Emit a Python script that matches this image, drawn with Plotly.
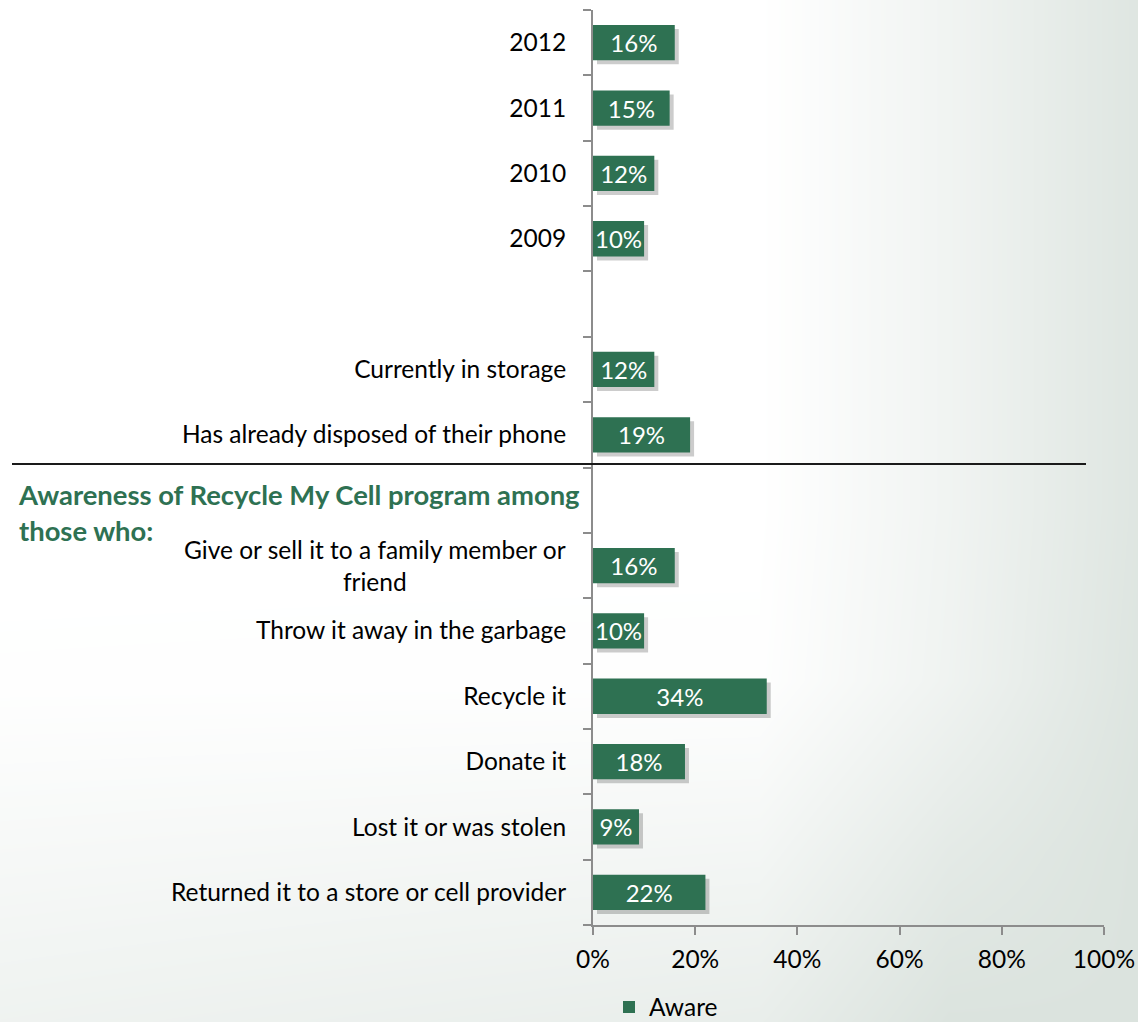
import numpy as np
import plotly.graph_objects as go

# Categories listed bottom-to-top; empty slots keep the gaps between groups
categories = [
    "Returned it to a store or cell provider",
    "Lost it or was stolen",
    "Donate it",
    "Recycle it",
    "Throw it away in the garbage",
    "Give or sell it to a family member or friend",
    "",
    "Has already disposed of their phone",
    "Currently in storage",
    " ",
    "2009",
    "2010",
    "2011",
    "2012",
]
aware = [22, 9, 18, 34, 10, 16, None, 19, 12, None, 10, 12, 15, 16]
x_ticks = [0, 20, 40, 60, 80, 100]
x_ticktext = [f"{v}%" for v in x_ticks]
section_title = "Awareness of Recycle My Cell program among<br>those who:"
wrapped_label = "Give or sell it to a family member or<br>friend"

W, H = 1138, 1022
GREEN = "#2e7152"
AXIS = "#8c8c8c"
FONT = "Lato"
LABEL_SIZE = 24.5
BAR_W = 0.54

# plot area in pixels
px_l, px_r, px_t, px_b = 593, 1104, 10, 925
xdom = [px_l / W, px_r / W]
ydom = [1 - px_b / H, 1 - px_t / H]

keys = [f"c{i}" for i in range(len(categories))]
ticktext = ["" if c == "Give or sell it to a family member or friend" else c.strip()
            for c in categories]

fig = go.Figure()

# soft page background (subplot xy, drawn first)
gx = np.linspace(0, 1, 7)
gy = np.linspace(0, 1, 7)
GX, GY = np.meshgrid(gx, gy)
shade = np.clip(np.maximum((GX - 0.7) / 0.3, 0) * 0.9
                + np.maximum((0.35 - GY) / 0.35, 0) * (1 - GX) * 0.45
                + np.maximum((0.35 - GY) / 0.35, 0) * GX * 0.7, 0, 1)
fig.add_trace(go.Heatmap(x=gx, y=gy, z=shade, zsmooth="best", showscale=False,
                         zmin=0, zmax=1, hoverinfo="skip",
                         colorscale=[[0, "#ffffff"], [1, "#dbe3de"]],
                         xaxis="x", yaxis="y"))

# drop shadows behind bars
fig.add_trace(go.Bar(y=keys, x=aware, orientation="h", width=BAR_W,
                     marker=dict(color="rgba(0,0,0,0.20)", line=dict(width=0)),
                     showlegend=False, hoverinfo="skip",
                     xaxis="x2", yaxis="y2"))

# main bars
fig.add_trace(go.Bar(y=keys, x=aware, orientation="h", width=BAR_W, name="Aware",
                     marker=dict(color=GREEN, line=dict(width=0)),
                     texttemplate="%{x:.0f}%", textposition="inside",
                     insidetextanchor="middle", constraintext="none",
                     textfont=dict(color="white", size=24, family=FONT),
                     xaxis="x3", yaxis="y3"))

hidden = dict(visible=False, showgrid=False, zeroline=False, fixedrange=True)
fig.update_layout(
    width=W, height=H,
    margin=dict(l=0, r=0, t=0, b=0, autoexpand=False),
    paper_bgcolor="white", plot_bgcolor="rgba(0,0,0,0)",
    font=dict(family=FONT, size=LABEL_SIZE, color="black"),
    barmode="overlay",
    xaxis=dict(domain=[0, 1], range=[0, 1], **hidden),
    yaxis=dict(domain=[0, 1], range=[0, 1], **hidden),
    xaxis2=dict(domain=[xdom[0] + 4 / W, xdom[1] + 4 / W], range=[0, 100], **hidden),
    yaxis2=dict(domain=[ydom[0] - 4 / H, ydom[1] - 4 / H], range=[-0.5, 13.5],
                type="category", categoryorder="array", categoryarray=keys, **hidden),
    xaxis3=dict(domain=xdom, range=[0, 100], tickvals=x_ticks, ticktext=x_ticktext,
                showline=True, linecolor=AXIS, linewidth=2,
                ticks="outside", ticklen=8, tickwidth=2, tickcolor=AXIS,
                ticklabelstandoff=4,
                showgrid=False, zeroline=False, automargin=False,
                tickfont=dict(size=LABEL_SIZE, family=FONT), anchor="y3"),
    yaxis3=dict(domain=ydom, range=[-0.5, 13.5], type="category",
                categoryorder="array", categoryarray=keys,
                tickvals=keys, ticktext=ticktext, tickson="boundaries",
                showline=True, linecolor=AXIS, linewidth=2,
                ticks="outside", ticklen=8, tickwidth=2, tickcolor=AXIS,
                ticklabelstandoff=20,
                showgrid=False, zeroline=False, automargin=False,
                tickfont=dict(size=LABEL_SIZE, family=FONT), anchor="x3"),
    showlegend=True,
    legend=dict(orientation="h", x=609 / W, xanchor="left", y=1 - 1007 / H,
                yanchor="middle", bgcolor="rgba(0,0,0,0)",
                font=dict(size=LABEL_SIZE, family=FONT), traceorder="normal"),
)

# separator line between the two groups
fig.add_shape(type="line", xref="paper", yref="paper",
              x0=12 / W, x1=1086 / W, y0=1 - 464 / H, y1=1 - 464 / H,
              line=dict(color="#1a1a1a", width=2), layer="above")

# section heading
fig.add_annotation(text=section_title, xref="paper", yref="paper",
                   x=16 / W, y=1 - 476 / H, xanchor="left", yanchor="top",
                   align="left", showarrow=False,
                   font=dict(family=FONT, size=27.4, color=GREEN, weight="bold"))

# two-line category label, centred
fig.add_annotation(text=wrapped_label, xref="paper", y=keys[5], yref="y3",
                   x=568 / W, xanchor="right", yanchor="middle",
                   align="center", showarrow=False,
                   font=dict(family=FONT, size=LABEL_SIZE, color="black"))

fig.write_html("out.html")
